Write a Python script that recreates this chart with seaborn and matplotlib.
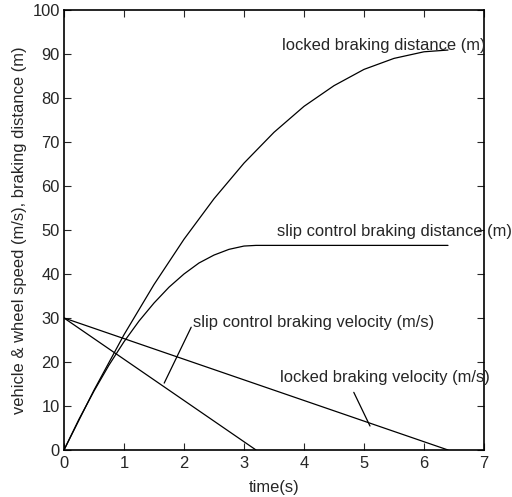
import matplotlib
matplotlib.use("Agg")
import matplotlib.pyplot as plt
import seaborn as sns
import pandas as pd

# values
t_locked = [0, 0.5, 1.0, 1.5, 2.0, 2.5, 3.0, 3.5, 4.0, 4.5, 5.0, 5.5, 6.0, 6.4]
d_locked = [0, 13.6, 26.2, 37.6, 47.9, 57.1, 65.2, 72.2, 78.1, 82.8, 86.5, 89.0, 90.5, 90.9]

t_slip = [0, 0.25, 0.5, 0.75, 1.0, 1.25, 1.5, 1.75, 2.0, 2.25, 2.5, 2.75, 3.0, 3.2, 6.4]
d_slip = [0, 7.0, 13.4, 19.3, 24.6, 29.3, 33.4, 37.0, 40.0, 42.5, 44.3, 45.6, 46.35, 46.5, 46.5]

t_vel_slip = [0, 3.2]
v_slip = [30, 0]
t_vel_locked = [0, 6.4]
v_locked = [30, 0]

labels = [
    "locked braking distance (m)",
    "slip control braking distance (m)",
    "slip control braking velocity (m/s)",
    "locked braking velocity (m/s)",
]

sns.set_style("ticks")
plt.rcParams["font.family"] = ["Liberation Sans", "DejaVu Sans"]
plt.rcParams["font.size"] = 11.9

fig = plt.figure(figsize=(5.12, 4.97), dpi=100)
ax = fig.add_axes([0.125, 0.0946, 0.8203, 0.8853])

series = [
    (t_locked, d_locked),
    (t_slip, d_slip),
    (t_vel_slip, v_slip),
    (t_vel_locked, v_locked),
]
for (xs, ys), name in zip(series, labels):
    df = pd.DataFrame({"t": xs, "y": ys})
    sns.lineplot(data=df, x="t", y="y", ax=ax, color="black", lw=0.9,
                 estimator=None, sort=False)

# annotations with leader lines
ax.text(3.63, 92.0, labels[0], va="center", ha="left", fontsize=11.9)
ax.text(3.55, 49.6, labels[1], va="center", ha="left", fontsize=11.9)
ax.text(2.15, 28.9, labels[2], va="center", ha="left", fontsize=11.9)
ax.text(3.6, 16.4, labels[3], va="center", ha="left", fontsize=11.9)
ax.plot([2.12, 1.67], [27.9, 15.2], color="black", lw=0.9)
ax.plot([4.83, 5.1], [13.1, 5.45], color="black", lw=0.9)

ax.set_xlim(0, 7)
ax.set_ylim(0, 100)
ax.set_xticks(range(0, 8))
ax.set_yticks(range(0, 101, 10))
ax.set_xlabel("time(s)", fontsize=11.9, labelpad=6.5)
ax.set_ylabel("vehicle & wheel speed (m/s), braking distance (m)", fontsize=11.9, labelpad=4)
ax.tick_params(direction="in", length=5, width=0.8, top=True, right=True,
               labelsize=11.9, pad=3)
ax.tick_params(axis="x", pad=4.5)
for sp in ax.spines.values():
    sp.set_visible(True)
    sp.set_linewidth(1.2)
    sp.set_color("black")

fig.savefig("out.png", dpi=100)
